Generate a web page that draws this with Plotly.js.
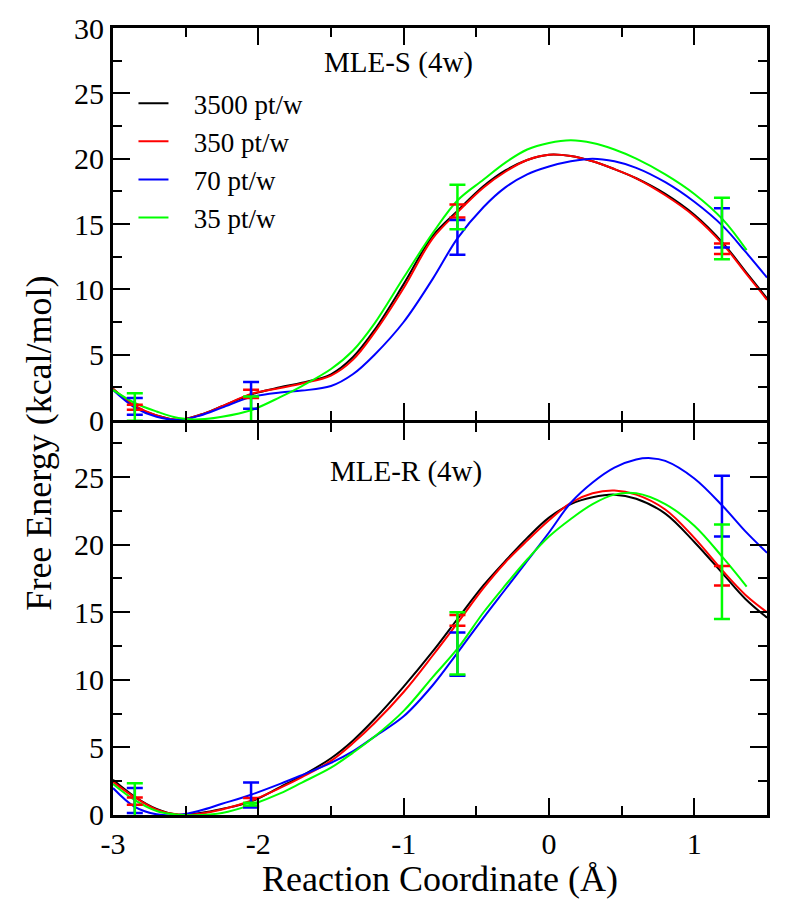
<!DOCTYPE html>
<html>
<head>
<meta charset="utf-8">
<script src="https://cdn.plot.ly/plotly-3.0.1.min.js"></script>
<style>html,body{margin:0;padding:0;background:#fff;}#plot{width:795px;height:909px;}</style>
</head>
<body>
<div id="plot"></div>
<script>
// ---------- DATA ----------
const seriesNames = ['3500 pt/w', '350 pt/w', '70 pt/w', '35 pt/w'];
const seriesColors = ['#000000', '#ff0000', '#0000ff', '#00ff00'];

const xGrid = [-3, -2.85, -2.7, -2.55, -2.4, -2.25, -2.05, -1.85, -1.7, -1.5, -1.35, -1.2, -1.0, -0.8, -0.63, -0.45, -0.3, -0.15, 0, 0.15, 0.3, 0.45, 0.6, 0.8, 1.0, 1.2, 1.35, 1.5];
const xGreen = [-3, -2.85, -2.7, -2.55, -2.4, -2.25, -2.05, -1.85, -1.7, -1.5, -1.35, -1.2, -1.0, -0.8, -0.63, -0.45, -0.3, -0.15, 0, 0.15, 0.3, 0.45, 0.6, 0.8, 1.0, 1.2, 1.36];
const xBlueR = [-3, -2.85, -2.7, -2.55, -2.4, -2.25, -2.05, -1.85, -1.7, -1.5, -1.35, -1.2, -1.0, -0.8, -0.63, -0.45, -0.3, -0.15, 0, 0.15, 0.3, 0.45, 0.6, 0.7, 0.8, 1.0, 1.2, 1.35, 1.5];

// MLE-S (4w) panel
const s3500 = [2.4, 1.05, 0.35, 0.02, 0.4, 1.05, 1.95, 2.5, 2.85, 3.5, 4.8, 6.9, 10.4, 14.1, 16.0, 17.9, 19.1, 19.9, 20.3, 20.2, 19.8, 19.2, 18.5, 17.3, 15.7, 13.5, 11.4, 9.3];
const s350  = [2.4, 1.1, 0.35, 0.02, 0.4, 1.05, 2.0, 2.45, 2.8, 3.4, 4.6, 6.7, 10.1, 13.9, 15.9, 17.8, 19.0, 19.9, 20.3, 20.2, 19.8, 19.2, 18.5, 17.2, 15.6, 13.4, 11.3, 9.2];
const s70   = [2.3, 0.95, 0.25, 0.01, 0.35, 0.95, 1.75, 2.1, 2.25, 2.6, 3.5, 5.0, 7.5, 10.8, 13.9, 16.3, 17.8, 18.8, 19.4, 19.8, 20.0, 19.8, 19.3, 18.2, 16.7, 14.8, 12.9, 10.9];
const s35   = [2.3, 1.3, 0.65, 0.15, 0.05, 0.25, 0.75, 1.75, 2.6, 3.9, 5.3, 7.4, 10.9, 14.3, 16.8, 18.4, 19.7, 20.7, 21.2, 21.4, 21.2, 20.7, 20.0, 18.8, 17.3, 15.3, 13.0];

// MLE-R (4w) panel
const r3500 = [2.6, 1.35, 0.45, 0.02, 0.15, 0.45, 1.0, 2.07, 2.9, 4.2, 5.5, 7.1, 9.5, 12.1, 14.5, 17.0, 18.8, 20.5, 22.0, 23.0, 23.5, 23.7, 23.4, 22.3, 20.2, 17.8, 16.0, 14.6];
const r350  = [2.45, 1.3, 0.4, 0.03, 0.1, 0.4, 1.05, 2.0, 2.8, 4.0, 5.3, 6.8, 9.1, 11.8, 14.2, 16.8, 18.7, 20.3, 21.8, 23.1, 23.8, 24.0, 23.7, 22.6, 20.5, 18.0, 16.3, 15.0];
const r70   = [2.0, 0.6, 0.05, 0.0, 0.33, 0.83, 1.5, 2.3, 2.95, 3.85, 4.7, 5.8, 7.3, 9.6, 12.0, 14.6, 16.7, 18.8, 20.9, 23.1, 24.6, 25.7, 26.3, 26.4, 26.2, 24.9, 22.8, 21.0, 19.4];
const r35   = [2.3, 1.1, 0.3, 0.02, 0.0, 0.15, 0.75, 1.6, 2.4, 3.5, 4.6, 5.8, 7.7, 10.2, 12.3, 15.0, 17.0, 18.9, 20.6, 21.9, 23.0, 23.7, 23.8, 23.0, 21.4, 19.0, 16.9];

// Error bars (centre, half-width) at sampled windows
const errX = [-2.85, -2.05, -0.63, 1.19];
const sErr350 = [0.97, 2.0, 16.0, 13.1];   const sErr350d = [0.19, 0.32, 0.5, 0.4];
const sErr70  = [1.04, 1.88, 13.97, 14.7]; const sErr70d  = [0.64, 1.02, 1.33, 1.5];
const sErr35  = [1.0, 0.7, 16.3, 14.65];   const sErr35d  = [1.05, 1.1, 1.7, 2.35];
const rErr350 = [1.03, 0.95, 14.4, 17.7];  const rErr350d = [0.27, 0.3, 0.4, 0.72];
const rErr70  = [1.07, 1.48, 11.9, 22.85]; const rErr70d  = [0.92, 0.92, 1.6, 2.25];
const rErr35  = [1.0, 0.8, 12.7, 18.0];    const rErr35d  = [1.35, 0.1, 2.3, 3.5];

const xTickVals = [-3, -2, -1, 0, 1];
const xTickText = ['-3', '-2', '-1', '0', '1'];
const yTopTicks = [0, 5, 10, 15, 20, 25, 30];
const yBotTicks = [0, 5, 10, 15, 20, 25];

// ---------- TRACES ----------
const FONT = "'Liberation Serif', 'Times New Roman', serif";
const GAP = '\u00a0\u00a0\u00a0';
function line(x, y, i, ax, show) {
  return {x: x, y: y, type: 'scatter', mode: 'lines', name: GAP + seriesNames[i],
    xaxis: ax === 'top' ? 'x2' : 'x', yaxis: ax === 'top' ? 'y' : 'y2',
    line: {color: seriesColors[i], width: 2, shape: 'spline', smoothing: 1},
    showlegend: show, hoverinfo: 'skip'};
}
function err(y, d, i, ax) {
  return {x: errX, y: y, type: 'scatter', mode: 'markers',
    xaxis: ax === 'top' ? 'x2' : 'x', yaxis: ax === 'top' ? 'y' : 'y2',
    marker: {size: 1, color: seriesColors[i]},
    error_y: {type: 'data', array: d, visible: true, color: seriesColors[i], thickness: 2.5, width: 8},
    showlegend: false, hoverinfo: 'skip'};
}
const traces = [
  line(xGrid, s3500, 0, 'top', true),
  line(xGrid, s350, 1, 'top', true),
  line(xGrid, s70, 2, 'top', true),
  line(xGreen, s35, 3, 'top', true),
  err(sErr350, sErr350d, 1, 'top'),
  err(sErr70, sErr70d, 2, 'top'),
  err(sErr35, sErr35d, 3, 'top'),
  line(xGrid, r3500, 0, 'bot', false),
  line(xGrid, r350, 1, 'bot', false),
  line(xBlueR, r70, 2, 'bot', false),
  line(xGreen, r35, 3, 'bot', false),
  err(rErr350, rErr350d, 1, 'bot'),
  err(rErr70, rErr70d, 2, 'bot'),
  err(rErr35, rErr35d, 3, 'bot')
];

const axisCommon = {
  showline: true, linewidth: 3, linecolor: '#000', mirror: 'ticks',
  ticks: 'inside', ticklen: 17, tickwidth: 2, tickcolor: '#000',
  showgrid: false, zeroline: false,
  tickfont: {family: FONT, size: 30, color: '#000'}
};
const minorX = {tickmode: 'linear', tick0: -3, dtick: 0.5, ticks: 'inside', ticklen: 9, tickwidth: 2, tickcolor: '#000', showgrid: false};
const minorY = {tickmode: 'linear', tick0: 0, dtick: 2.5, ticks: 'inside', ticklen: 9, tickwidth: 2, tickcolor: '#000', showgrid: false};
const H = 788, half = 1.5 / H;

const layout = {
  width: 795, height: 909,
  font: {family: FONT, color: '#000'},
  margin: {l: 112.5, r: 27.5, t: 27.5, b: 93.5, pad: 0},
  paper_bgcolor: '#fff', plot_bgcolor: '#fff',
  showlegend: true,
  legend: {x: 0.0313, y: 0.935, xanchor: 'left', yanchor: 'top', bgcolor: 'rgba(0,0,0,0)',
    font: {family: FONT, size: 27, color: '#000'}, tracegroupgap: 0},
  xaxis: Object.assign({}, axisCommon, {anchor: 'y2', range: [-3, 1.5], tickmode: 'array',
    tickvals: xTickVals, ticktext: xTickText, minor: minorX}),
  xaxis2: Object.assign({}, axisCommon, {anchor: 'y', matches: 'x', range: [-3, 1.5], tickmode: 'array',
    tickvals: xTickVals, showticklabels: false, minor: minorX}),
  yaxis: Object.assign({}, axisCommon, {domain: [0.5 + half, 1], range: [0, 30], tickmode: 'array', tickvals: yTopTicks, minor: minorY}),
  yaxis2: Object.assign({}, axisCommon, {domain: [0, 0.5 - half], range: [0, 29], tickmode: 'array', tickvals: yBotTicks, minor: minorY}),
  annotations: [
    {text: 'MLE-S (4w)', xref: 'paper', yref: 'paper', x: 0.436, y: 0.9562, xanchor: 'center', yanchor: 'middle', showarrow: false,
      font: {family: FONT, size: 29, color: '#000'}},
    {text: 'MLE-R (4w)', xref: 'paper', yref: 'paper', x: 0.448, y: 0.4359, xanchor: 'center', yanchor: 'middle', showarrow: false,
      font: {family: FONT, size: 29, color: '#000'}},
    {text: 'Free Energy (kcal/mol)', xref: 'paper', yref: 'paper', x: -0.1137, y: 0.4727, xanchor: 'center', yanchor: 'middle',
      textangle: -90, showarrow: false, font: {family: FONT, size: 36, color: '#000'}},
    {text: 'Reaction Coordinate (Å)', xref: 'paper', yref: 'paper', x: 0.5, y: -0.0819, xanchor: 'center', yanchor: 'middle',
      showarrow: false, font: {family: FONT, size: 36, color: '#000'}}
  ]
};

Plotly.newPlot('plot', traces, layout, {displayModeBar: false, staticPlot: true});
</script>
</body>
</html>
